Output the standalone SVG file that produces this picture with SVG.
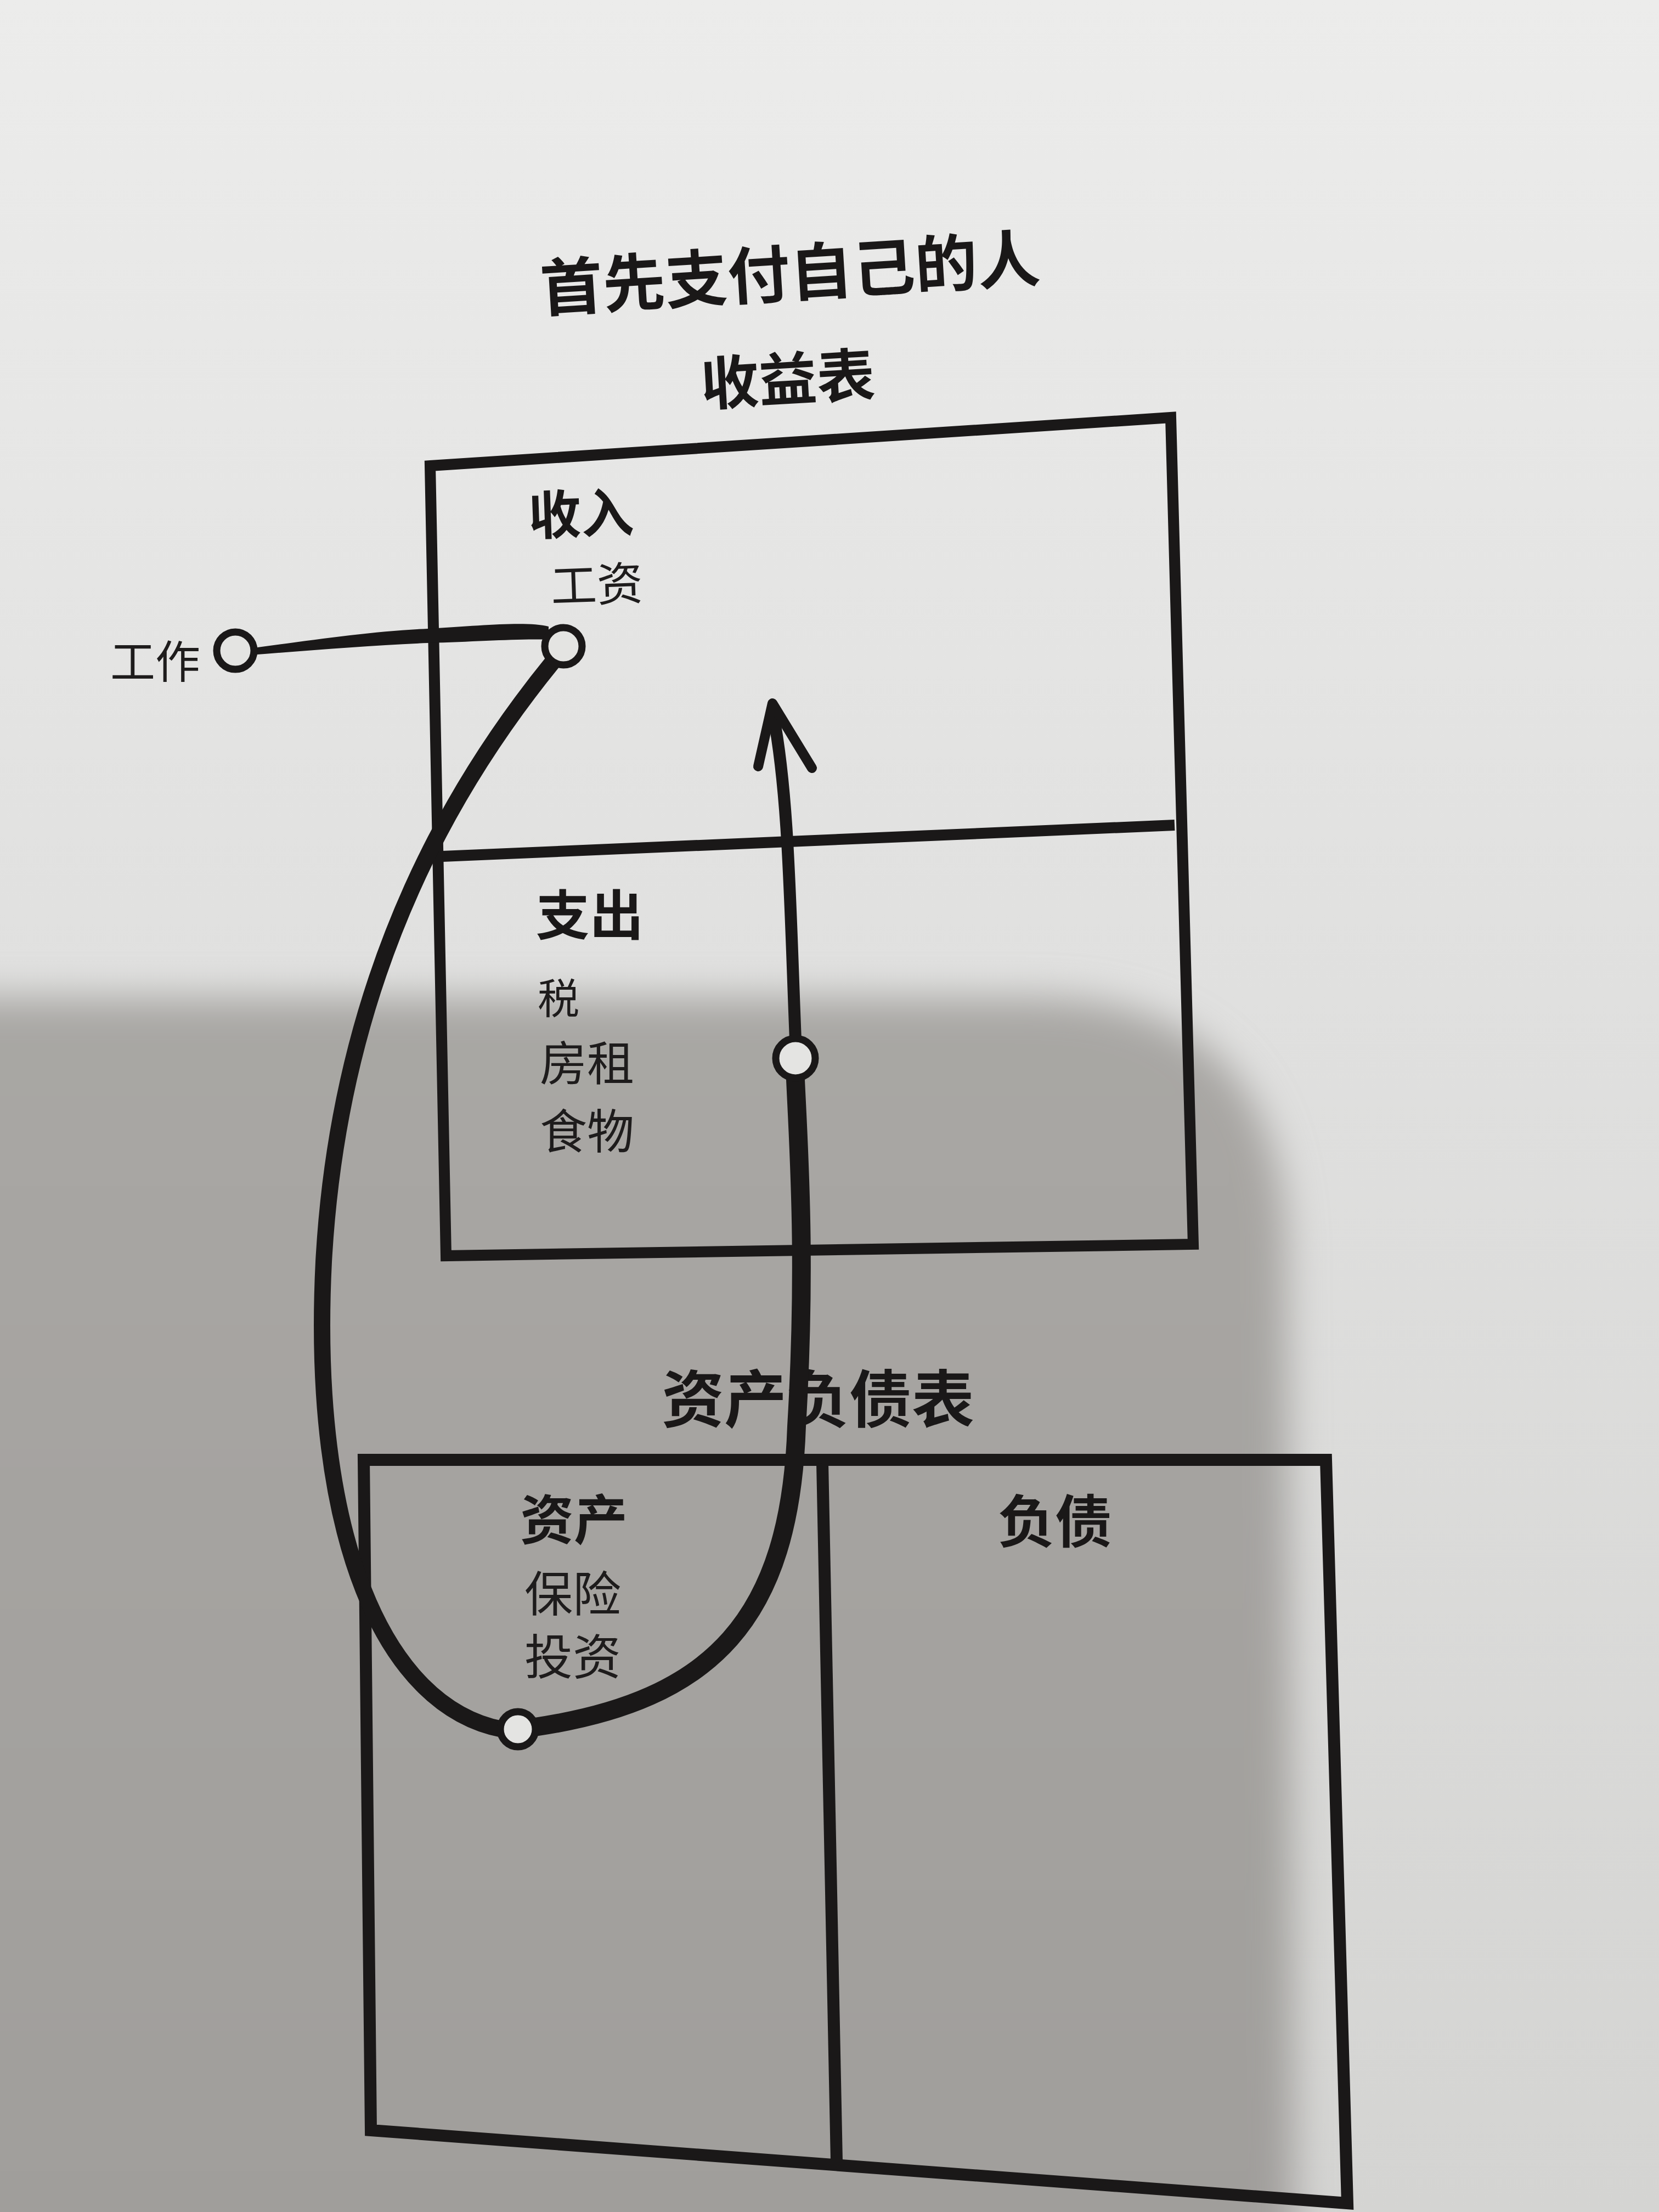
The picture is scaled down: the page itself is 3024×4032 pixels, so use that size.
<svg xmlns="http://www.w3.org/2000/svg" width="3024" height="4032" viewBox="0 0 3024 4032">
<defs>
<linearGradient id="page" x1="0" y1="0" x2="0" y2="1">
<stop offset="0" stop-color="#ececeb"/>
<stop offset="0.45" stop-color="#e0e0df"/>
<stop offset="1" stop-color="#d4d4d2"/>
</linearGradient>
<linearGradient id="shade" x1="0" y1="0" x2="0" y2="1">
<stop offset="0" stop-color="#a9a7a4"/>
<stop offset="1" stop-color="#a09e9b"/>
</linearGradient>
<filter id="soft" x="-10%" y="-10%" width="120%" height="120%">
<feGaussianBlur stdDeviation="35"/>
</filter>
</defs>
<style>
.box{fill:none;stroke:#1a1818;stroke-width:20;stroke-linejoin:miter}
.head{font-family:"Noto Sans CJK SC","Noto Sans",sans-serif;font-weight:700;fill:#1a1818;text-anchor:middle}
.item{font-family:"Noto Sans CJK SC","Noto Sans",sans-serif;font-weight:400;fill:#1e1c1c;text-anchor:middle}
.dot{fill:#e4e4e2;stroke:#1a1818;stroke-width:13}
.ink{fill:none;stroke:#1a1818;stroke-linecap:round;stroke-linejoin:round}
</style>
<rect x="0" y="0" width="3024" height="4032" fill="url(#page)"/>
<path d="M-100,1818 L1880,1818 Q2330,1818 2345,2260 L2360,4132 L-100,4132 Z" fill="url(#shade)" filter="url(#soft)"/>

<g id="title">
<text class="head" x="1440" y="540" font-size="114" transform="rotate(-3.5 1440 497)">首先支付自己的人</text>
</g>

<g id="income-statement">
<text class="head" x="1436" y="730" font-size="106" transform="rotate(-3.3 1436 692)">收益表</text>
<polygon class="box" points="784,849 2134,761 2175,2268 813,2289"/>
<line class="box" x1="806" y1="1561" x2="2141" y2="1504"/>
<text class="head" x="1059" y="972" font-size="96" transform="rotate(-2 1059 939)">收入</text>
<text class="item" x="1088" y="1096" font-size="84" transform="rotate(-2 1088 1067)">工资</text>
<text class="head" x="1075" y="1704" font-size="98">支出</text>
<text class="item" x="1018" y="1848" font-size="76">税</text>
<text class="item" x="1070" y="1970" font-size="86">房租</text>
<text class="item" x="1070" y="2094" font-size="86">食物</text>
</g>

<g id="balance-sheet">
<text class="head" x="1491" y="2592" font-size="114">资产负债表</text>
<polygon class="box" style="stroke-width:22" points="663,2661 2417,2661 2456,4016 676,3883"/>
<line class="box" style="stroke-width:22" x1="1499" y1="2667" x2="1525" y2="3939"/>
<text class="head" x="1046" y="2806" font-size="98">资产</text>
<text class="head" x="1923" y="2812" font-size="104">负债</text>
<text class="item" x="1044" y="2937" font-size="88">保险</text>
<text class="item" x="1044" y="3052" font-size="88">投资</text>
</g>

<g id="connectors">
<path fill="#1a1818" d="M455,1182 C 560,1168 680,1150 780,1146 C 880,1140 960,1132 1000,1142 L 1000,1166 C 940,1164 870,1170 780,1172 C 680,1176 560,1186 455,1194 Z"/>
<path class="ink" stroke-width="30" d="M1008,1206 C 850,1400 620,1750 590,2300 C 565,2800 700,3110 915,3152"/>
<path class="ink" stroke-width="34" d="M975,3148 C 1300,3100 1440,2950 1452,2600 C 1470,2300 1456,2100 1450,1968"/>
<path class="ink" stroke-width="22" d="M1450,1895 C 1440,1650 1438,1450 1409,1300"/>
<polyline class="ink" stroke-width="18" stroke-linejoin="miter" points="1382,1397 1408,1282 1480,1400"/>
</g>

<g id="node-work">
<text class="item" x="283" y="1236" font-size="82">工作</text>
<circle class="dot" cx="429" cy="1186" r="34"/>
</g>
<g id="node-salary">
<circle class="dot" cx="1027" cy="1178" r="34"/>
</g>
<g id="node-expense">
<circle class="dot" cx="1450" cy="1929" r="36"/>
</g>
<g id="node-asset">
<circle class="dot" cx="944" cy="3152" r="32"/>
</g>
</svg>
